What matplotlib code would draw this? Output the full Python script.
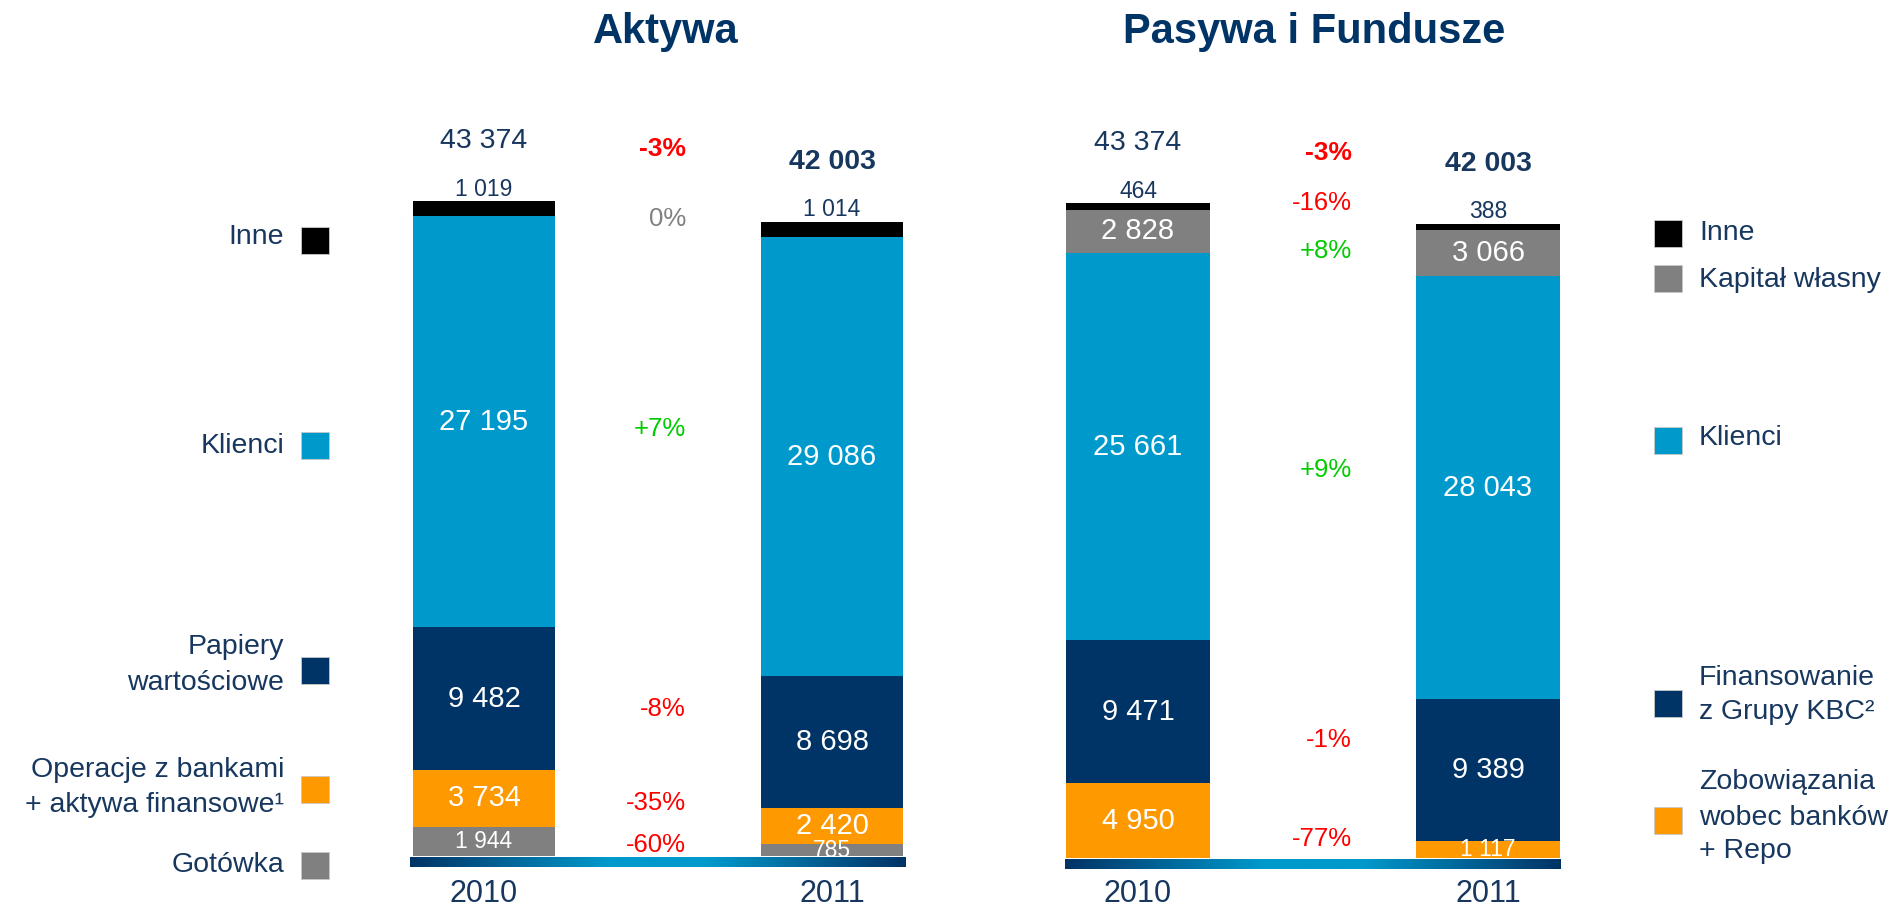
import numpy as np
import matplotlib
matplotlib.use('Agg')
import matplotlib.pyplot as plt
from matplotlib.colors import LinearSegmentedColormap
from matplotlib.transforms import blended_transform_factory
from matplotlib.patches import Rectangle

plt.rcParams['font.family'] = ['Liberation Sans', 'DejaVu Sans']

# ---------------- data ----------------
years = ['2010', '2011']

assets_categories = ['Gotówka', 'Operacje z bankami\n+ aktywa finansowe¹',
                     'Papiery\nwartościowe', 'Klienci', 'Inne']
assets_2010 = [1944, 3734, 9482, 27195, 1019]
assets_2011 = [785, 2420, 8698, 29086, 1014]
assets_totals = [43374, 42003]
assets_changes = ['-60%', '-35%', '-8%', '+7%', '0%']
assets_total_change = '-3%'

liab_categories = ['Zobowiązania\nwobec banków\n+ Repo', 'Finansowanie\nz Grupy KBC²',
                   'Klienci', 'Kapitał własny', 'Inne']
liab_2010 = [4950, 9471, 25661, 2828, 464]
liab_2011 = [1117, 9389, 28043, 3066, 388]
liab_totals = [43374, 42003]
liab_changes = ['-77%', '-1%', '+9%', '+8%', '-16%']
liab_total_change = '-3%'

titles = ['Aktywa', 'Pasywa i Fundusze']

# ---------------- style ----------------
NAVY = '#003366'
LBLUE = '#0099CC'
ORANGE = '#FF9900'
GRAY = '#808080'
BLACK = '#000000'
TEXT = '#17375E'
RED = '#FF0000'
GREEN = '#00CC00'

assets_colors = [GRAY, ORANGE, NAVY, LBLUE, BLACK]
liab_colors = [ORANGE, NAVY, LBLUE, GRAY, BLACK]

W, H = 1894, 908
fig = plt.figure(figsize=(W / 100, H / 100), dpi=100)
PT = 0.72  # points per pixel at dpi 100


def fx(x):
    return x / W


def fy(y):
    return 1 - y / H


K = 0.0151  # pixels per value unit (layout scale)


def fmt(v):
    return f"{v:,}".replace(',', ' ')


def change_color(s):
    if s.startswith('+'):
        return GREEN
    if s.startswith('-'):
        return RED
    return GRAY


grad_cmap = LinearSegmentedColormap.from_list(
    'base', [(0, NAVY), (0.4, LBLUE), (0.6, LBLUE), (1, NAVY)])


def panel(box, centers_px, zero_px, bar_px, series, totals, colors, ext_px):
    x0, y0, x1, y1 = box
    ax = fig.add_axes([fx(x0), fy(y1), (x1 - x0) / W, (y1 - y0) / H])
    d = centers_px[1] - centers_px[0]
    bw = bar_px / d
    xs = np.arange(len(series))
    bottoms = np.zeros(len(series))
    ncat = len(colors)
    for j in range(ncat):
        vals = np.array([s[j] for s in series], dtype=float)
        ax.bar(xs, vals, bottom=bottoms, width=bw, color=colors[j],
               linewidth=0, zorder=2)
        for i in range(len(series)):
            v = vals[i]
            if j < ncat - 1:
                fs = 16.5 if v < 2000 else 21
                ax.text(xs[i], bottoms[i] + v / 2, fmt(int(v)), ha='center',
                        va='center', color='white', fontsize=fs, zorder=2.5)
            else:
                ax.annotate(fmt(int(v)), (xs[i], bottoms[i] + v),
                            xytext=(0, 12 * PT), textcoords='offset points',
                            ha='center', va='center', color=TEXT, fontsize=16.5)
        bottoms = bottoms + vals
    for i, t in enumerate(totals):
        ax.annotate(fmt(t), (xs[i], t), xytext=(0, 60 * PT),
                    textcoords='offset points', ha='center', va='center',
                    color=TEXT, fontsize=20.5,
                    fontweight='bold' if i == len(totals) - 1 else 'normal')
    # gradient base line
    e = ext_px / d
    grad = np.linspace(0, 1, 256).reshape(1, -1)
    ax.imshow(grad, extent=[xs[0] - bw / 2 - e, xs[-1] + bw / 2 + e,
                            -11 / K, -1 / K],
              aspect='auto', cmap=grad_cmap, zorder=3, interpolation='bilinear')
    ax.set_xlim((x0 - centers_px[0]) / d, (x1 - centers_px[0]) / d)
    ax.set_ylim(-(y1 - zero_px) / K, (zero_px - y0) / K)
    ax.axis('off')
    tr = blended_transform_factory(ax.transData, fig.transFigure)
    for i, yr in enumerate(years):
        ax.text(xs[i], fy(894), yr, transform=tr, ha='center', va='center',
                fontsize=22, color=TEXT)
    return ax


panel((380, 100, 940, 880), (484, 832), 856, 142,
      [assets_2010, assets_2011], assets_totals, assets_colors, 3)
panel((1040, 100, 1600, 880), (1138, 1488), 858, 144,
      [liab_2010, liab_2011], liab_totals, liab_colors, 1)

# titles
fig.text(fx(666), fy(32), titles[0], ha='center', va='center', fontsize=30,
         fontweight='bold', color=NAVY)
fig.text(fx(1314), fy(32), titles[1], ha='center', va='center', fontsize=30,
         fontweight='bold', color=NAVY)

# change labels (layout positions in pixels)
assets_change_y = [845, 803, 709, 429, 219.5]
liab_change_y = [839, 740, 470, 251, 202.5]
for lab, y in zip(assets_changes, assets_change_y):
    fig.text(fx(686), fy(y), lab, ha='right', va='center', fontsize=18.5,
             color=change_color(lab))
fig.text(fx(686), fy(148.5), assets_total_change, ha='right', va='center',
         fontsize=19, fontweight='bold', color=RED)
for lab, y in zip(liab_changes, liab_change_y):
    fig.text(fx(1352), fy(y), lab, ha='right', va='center', fontsize=18.5,
             color=change_color(lab))
fig.text(fx(1352), fy(153), liab_total_change, ha='right', va='center',
         fontsize=19, fontweight='bold', color=RED)

# legends
left_sq_y = [865, 789, 670, 445, 240]
left_lines_y = [[865], [770, 805], [647, 683], [446], [237]]
right_sq_y = [820, 703, 440, 278, 234]
right_lines_y = [[782, 818, 851], [678, 712], [438], [280], [233]]


def legend_square(xl, yc, color):
    fig.patches.append(Rectangle((fx(xl), fy(yc + 13.5)), 28 / W, 27 / H,
                                 transform=fig.transFigure, facecolor=color,
                                 edgecolor='#C8C8C8', linewidth=0.6))


for cat, col, sy, lys in zip(assets_categories, assets_colors, left_sq_y, left_lines_y):
    legend_square(301, sy, col)
    for line, ly in zip(cat.split('\n'), lys):
        fig.text(fx(284), fy(ly), line, ha='right', va='center', fontsize=20.5,
                 color=TEXT)

for cat, col, sy, lys in zip(liab_categories, liab_colors, right_sq_y, right_lines_y):
    legend_square(1654, sy, col)
    for line, ly in zip(cat.split('\n'), lys):
        fig.text(fx(1699), fy(ly), line, ha='left', va='center', fontsize=20.5,
                 color=TEXT)

fig.savefig('out.png', dpi=100, facecolor='white')
